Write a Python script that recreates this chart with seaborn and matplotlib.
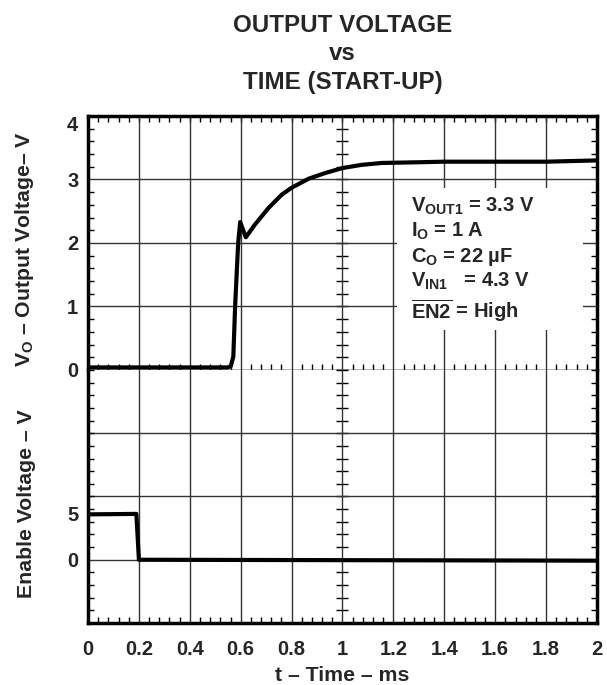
import matplotlib
matplotlib.use("Agg")
import matplotlib.pyplot as plt
from matplotlib.patches import Rectangle
from matplotlib.ticker import MultipleLocator, FixedLocator, FuncFormatter, NullLocator
import seaborn as sns

# start-up trace (time in ms, volts)
time_vo = [0.0, 0.30, 0.55, 0.561, 0.571, 0.578, 0.590, 0.598, 0.620, 0.656,
           0.709, 0.761, 0.800, 0.866, 0.931, 1.0, 1.075, 1.154, 1.285, 1.40,
           1.60, 1.80, 2.0]
vo = [0.04, 0.04, 0.04, 0.06, 0.21, 1.00, 2.00, 2.33, 2.09, 2.29,
      2.55, 2.76, 2.87, 3.01, 3.10, 3.18, 3.23, 3.26, 3.27, 3.28,
      3.28, 3.28, 3.30]

# enable pin
time_en = [0.0, 0.19, 0.20, 2.0]
v_en = [4.95, 5.0, 0.0, -0.1]

en_ticks = [0, 5]
en_div = 6.9  # volts per graticule division on the enable trace

conditions = ("$V_{OUT1}$ = 3.3 V\n"
              "$I_{O}$ = 1 A\n"
              "$C_{O}$ = 22 µF\n"
              "$V_{IN1}$   = 4.3 V\n"
              "$\\overline{EN2}$ = High")

sns.set_theme(style="white")
plt.rcParams["font.family"] = ["Liberation Sans", "DejaVu Sans"]
plt.rcParams["font.weight"] = "bold"
plt.rcParams["axes.labelweight"] = "bold"
plt.rcParams["mathtext.fontset"] = "custom"
for k in ["rm", "it", "bf", "sf"]:
    plt.rcParams["mathtext." + k] = "Liberation Sans:bold"

grid_c = "#333333"
fs = 14.5
lab_fs = 15.3

fig = plt.figure(figsize=(6.07, 6.85), dpi=100)
ax_top = fig.add_axes([0.145, 0.4599, 0.8385, 0.3708])
ax_bot = fig.add_axes([0.145, 0.0905, 0.8385, 0.3694])

sns.lineplot(x=time_vo, y=vo, ax=ax_top, color="black", linewidth=3, zorder=4)
sns.lineplot(x=time_en, y=v_en, ax=ax_bot, color="black", linewidth=3, zorder=4)

for ax in (ax_top, ax_bot):
    ax.set_xlim(0, 2)
    ax.xaxis.set_major_locator(MultipleLocator(0.2))
    ax.xaxis.set_minor_locator(MultipleLocator(0.04))
    ax.grid(True, which="major", axis="x", color=grid_c, lw=1)
    ax.set_axisbelow(True)
    for s in ax.spines.values():
        s.set_linewidth(2.5)
        s.set_color("black")
    ax.tick_params(axis="y", which="minor", left=True, right=True,
                   direction="in", length=4.3, width=1, color="black")
    ax.tick_params(axis="y", which="major", length=0, pad=7, labelsize=fs)

# top panel: output voltage
ax_top.set_ylim(0, 4)
ax_top.yaxis.set_major_locator(MultipleLocator(1))
ax_top.yaxis.set_minor_locator(MultipleLocator(0.2))
ax_top.grid(True, which="major", axis="y", color=grid_c, lw=1)
ax_top.spines["bottom"].set_linewidth(1)
ax_top.spines["bottom"].set_color(grid_c)
ax_top.tick_params(axis="x", which="minor", bottom=True, top=False,
                   direction="inout", length=8.5, width=1, color="black")
ax_top.tick_params(axis="x", which="major", length=0, labelbottom=False)
sec = ax_top.secondary_xaxis("top")
sec.xaxis.set_major_locator(NullLocator())
sec.xaxis.set_minor_locator(MultipleLocator(0.04))
sec.tick_params(which="minor", direction="in", length=4.3, width=1, color="black")
sec.spines[:].set_visible(False)
ax_top.set_ylabel("$V_{O}$ – Output Voltage– V", fontsize=lab_fs)
ax_top.yaxis.set_label_coords(-0.124, 0.476)
ax_top.yaxis.label.set_va("center")
for lbl in ax_top.get_yticklabels():
    if lbl.get_text() == "4":
        lbl.set_va("top")

cy = ax_top.secondary_yaxis(0.5)
cy.yaxis.set_major_locator(NullLocator())
cy.yaxis.set_minor_locator(MultipleLocator(0.2))
cy.tick_params(which="minor", direction="inout", length=8.5, width=1, color="black")
cy.spines[:].set_visible(False)

# white panel behind the test conditions (blanks the graticule there)
ax_top.add_patch(Rectangle((1.214, 0.63), 0.731, 2.24, facecolor="white",
                           edgecolor="none", zorder=2))
ax_top.text(1.268, 2.74, conditions, fontsize=fs, va="top", ha="left",
            linespacing=1.22, zorder=3)

# bottom panel: enable voltage
ax_bot.set_ylim(-en_div, 3 * en_div)
ax_bot.yaxis.set_major_locator(FixedLocator(en_ticks))
ax_bot.yaxis.set_minor_locator(MultipleLocator(en_div / 5))
for k in range(3):
    ax_bot.axhline(k * en_div, color=grid_c, lw=1, zorder=0.5)
ax_bot.spines["top"].set_visible(False)
ax_bot.tick_params(axis="x", which="minor", bottom=True, top=False,
                   direction="in", length=4.3, width=1, color="black")
ax_bot.tick_params(axis="x", which="major", length=0, pad=12, labelsize=fs)
ax_bot.xaxis.set_major_formatter(FuncFormatter(lambda v, p: f"{v:g}"))
ax_bot.set_xlabel("t – Time – ms", fontsize=lab_fs, labelpad=5)
ax_bot.set_ylabel("Enable Voltage – V", fontsize=lab_fs)
ax_bot.yaxis.set_label_coords(-0.12, 0.47)
ax_bot.yaxis.label.set_va("center")

cb = ax_bot.secondary_yaxis(0.5)
cb.yaxis.set_major_locator(NullLocator())
cb.yaxis.set_minor_locator(MultipleLocator(en_div / 5))
cb.tick_params(which="minor", direction="inout", length=8.5, width=1, color="black")
cb.spines[:].set_visible(False)

fig.text(0.5643, 1 - 14 / 685, "OUTPUT VOLTAGE\nvs\nTIME (START-UP)",
         ha="center", va="top", fontsize=17.4, fontweight="bold", linespacing=1.3)

fig.savefig("out.png", dpi=100)
